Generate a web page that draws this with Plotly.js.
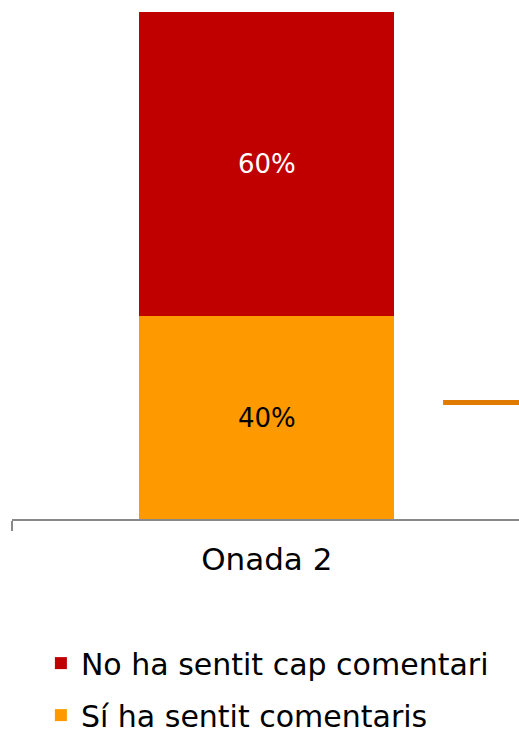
<!DOCTYPE html>
<html>
<head>
<meta charset="utf-8">
<script src="https://cdn.plot.ly/plotly-3.0.1.min.js"></script>
<style>
  html, body { margin: 0; padding: 0; background: #fff; }
  #chart { width: 519px; height: 734px; }
</style>
</head>
<body>
<div id="chart"></div>
<script>
// data
var waves = ["Onada 2"];
var siComentaris = [0.40];
var noComentari = [0.60];
var siLabels = ["40%"];
var noLabels = ["60%"];
// stray orange line at the right edge of the original chart
var lineX = [0.346, 0.52];
var lineY = [0.23, 0.23];

var font = "'DejaVu Sans', 'Noto Sans', sans-serif";

var traceSi = {
  x: waves,
  y: siComentaris,
  type: "bar",
  name: "Sí ha sentit comentaris",
  legendgroup: "si",
  legendrank: 2,
  marker: {color: "#FF9900"},
  text: siLabels,
  textposition: "inside",
  insidetextanchor: "middle",
  textfont: {family: font, size: 26, color: "#000000"},
  hoverinfo: "none",
  width: 0.5
};

var traceNo = {
  x: waves,
  y: noComentari,
  type: "bar",
  name: "No ha sentit cap comentari",
  legendgroup: "no",
  legendrank: 1,
  marker: {color: "#C00000"},
  text: noLabels,
  textposition: "inside",
  insidetextanchor: "middle",
  textfont: {family: font, size: 26, color: "#FFFFFF"},
  hoverinfo: "none",
  width: 0.5
};

var traceLine = {
  x: lineX,
  y: lineY,
  xaxis: "x2",
  type: "scatter",
  mode: "lines",
  line: {color: "#E07B00", width: 5},
  showlegend: false,
  hoverinfo: "none",
  cliponaxis: false
};

var layout = {
  width: 519,
  height: 734,
  margin: {l: 12, r: 0, t: 12, b: 215},
  barmode: "stack",
  paper_bgcolor: "#ffffff",
  plot_bgcolor: "#ffffff",
  font: {family: font, color: "#000000"},
  showlegend: true,
  xaxis: {
    type: "category",
    range: [-0.5, 0.495],
    showline: true,
    linecolor: "#898989",
    linewidth: 1.5,
    ticks: "outside",
    tickson: "boundaries",
    ticklen: 10,
    tickcolor: "#898989",
    tickwidth: 1.5,
    ticklabelstandoff: 12,
    tickfont: {family: font, size: 31, color: "#000000"},
    showgrid: false,
    zeroline: false,
    fixedrange: true
  },
  xaxis2: {
    overlaying: "x",
    range: [-0.5, 0.495],
    visible: false,
    fixedrange: true
  },
  yaxis: {
    range: [0, 1],
    visible: false,
    showgrid: false,
    zeroline: false,
    fixedrange: true
  },
  legend: {
    orientation: "v",
    traceorder: "grouped",
    x: 0.057,
    xanchor: "left",
    y: 0.132,
    yanchor: "top",
    yref: "container",
    font: {family: font, size: 30, color: "#000000"},
    tracegroupgap: 10,
    itemwidth: 30
  }
};

Plotly.newPlot("chart", [traceSi, traceNo, traceLine], layout, {displayModeBar: false, staticPlot: true});
</script>
</body>
</html>
